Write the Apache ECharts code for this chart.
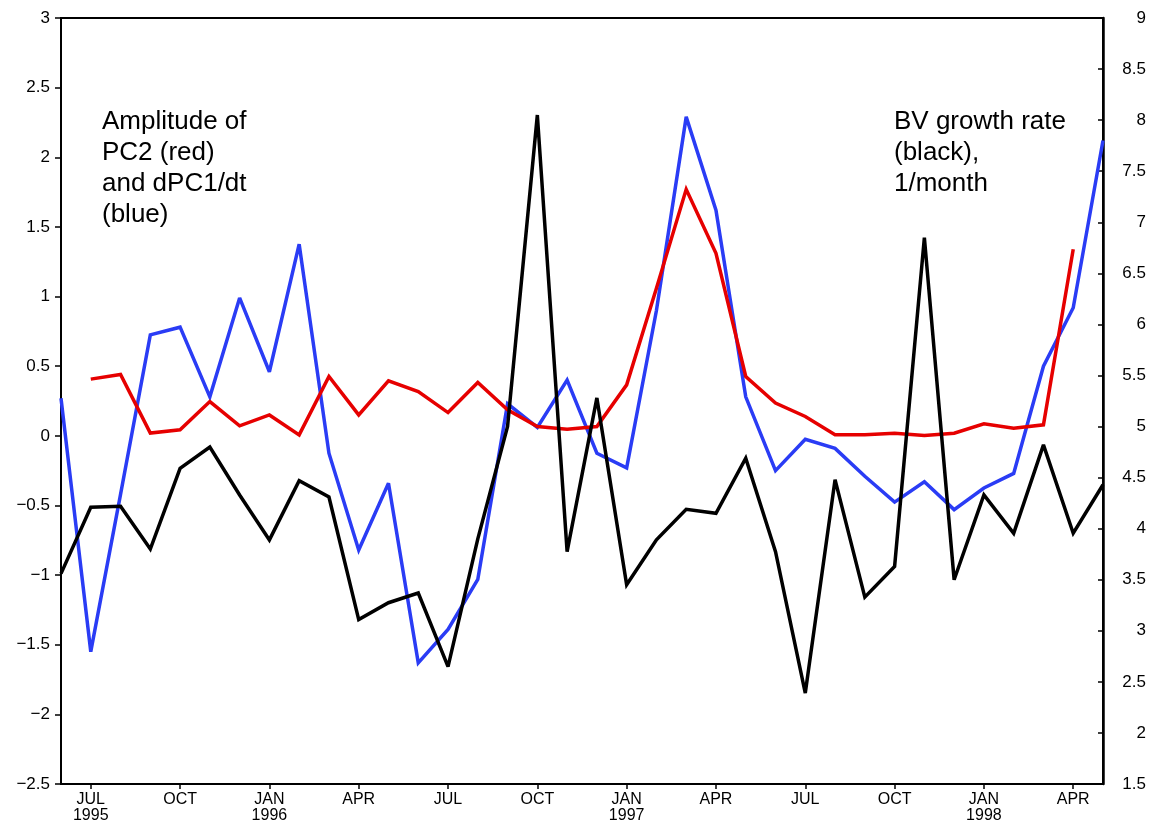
<!DOCTYPE html>
<html>
<head>
<meta charset="utf-8">
<title>PC2, dPC1/dt and BV growth rate</title>
<script src="https://cdn.jsdelivr.net/npm/echarts@6/dist/echarts.min.js"></script>
<style>
  html, body { margin: 0; padding: 0; background: #fff; }
  #chart { width: 1149px; height: 824px; }
</style>
</head>
<body>
<div id="chart"></div>
<script>
// Monthly time axis, June 1995 to May 1998
const months = [
  '1995-06', '1995-07', '1995-08', '1995-09', '1995-10', '1995-11', '1995-12',
  '1996-01', '1996-02', '1996-03', '1996-04', '1996-05', '1996-06', '1996-07',
  '1996-08', '1996-09', '1996-10', '1996-11', '1996-12',
  '1997-01', '1997-02', '1997-03', '1997-04', '1997-05', '1997-06', '1997-07',
  '1997-08', '1997-09', '1997-10', '1997-11', '1997-12',
  '1998-01', '1998-02', '1998-03', '1998-04', '1998-05'
];

// Month abbreviations shown on the time axis (quarterly)
const monthNames = { '01': 'JAN', '04': 'APR', '07': 'JUL', '10': 'OCT' };

// dPC1/dt (blue, left axis)
const dpc1dt = [
  0.27, -1.55, -0.42, 0.725, 0.78, 0.28, 0.99, 0.46, 1.376, -0.125,
  -0.82, -0.34, -1.63, -1.39, -1.03, 0.23, 0.06, 0.40, -0.125, -0.23,
  0.90, 2.29, 1.62, 0.28, -0.25, -0.025, -0.09, -0.29, -0.476, -0.33,
  -0.53, -0.375, -0.27, 0.50, 0.92, 2.12
];

// Amplitude of PC2 (red, left axis); no value for the first and last month
const pc2 = [
  null, 0.407, 0.44, 0.02, 0.043, 0.246, 0.072, 0.15, 0.007, 0.426,
  0.15, 0.395, 0.318, 0.167, 0.383, 0.187, 0.067, 0.048, 0.067, 0.366,
  1.06, 1.77, 1.31, 0.426, 0.235, 0.139, 0.007, 0.007, 0.019, 0.002,
  0.019, 0.086, 0.055, 0.079, 1.34, null
];

// BV growth rate, 1/month (black, right axis)
const bvGrowth = [
  3.56, 4.21, 4.22, 3.80, 4.59, 4.80, 4.33, 3.89, 4.47, 4.31,
  3.11, 3.275, 3.37, 2.65, 3.90, 5.00, 8.05, 3.775, 5.28, 3.45,
  3.89, 4.19, 4.15, 4.69, 3.775, 2.39, 4.48, 3.33, 3.63, 6.85,
  3.50, 4.33, 3.955, 4.82, 3.955, 4.43
];

// Axis ranges
const leftRange = { min: -2.5, max: 3, step: 0.5 };
const rightRange = { min: 1.5, max: 9, step: 0.5 };

const font = 'Liberation Sans, Arial, Helvetica, sans-serif';

function isLabelled(index) {
  const mm = months[index].slice(5);
  return monthNames[mm] !== undefined;
}

function monthLabel(value, index) {
  const mm = value.slice(5);
  const name = monthNames[mm];
  if (!name) return '';
  const firstLabel = months.findIndex((m, i) => isLabelled(i)) === index;
  if (mm === '01' || firstLabel) return name + '\n' + value.slice(0, 4);
  return name;
}

function signed(v) {
  return String(v).replace('-', '\u2212');
}

const lineStyle = (color) => ({ color: color, width: 3.5, join: 'miter', miterLimit: 3 });

const chart = echarts.init(document.getElementById('chart'), null, { renderer: 'canvas' });

chart.setOption({
  animation: false,
  backgroundColor: '#fff',
  grid: {
    left: 61, right: 46, top: 18, bottom: 40,
    show: true, borderColor: '#000', borderWidth: 2
  },
  xAxis: {
    type: 'category',
    data: months,
    boundaryGap: false,
    axisLine: { show: true, onZero: false, lineStyle: { color: '#000', width: 2 } },
    axisTick: {
      show: true, inside: false, length: 5,
      interval: (i) => isLabelled(i),
      lineStyle: { color: '#000', width: 1.5 }
    },
    axisLabel: {
      interval: (i) => isLabelled(i),
      formatter: monthLabel,
      color: '#000', fontFamily: font, fontSize: 16, lineHeight: 16, margin: 8
    },
    splitLine: { show: false }
  },
  yAxis: [
    {
      type: 'value',
      position: 'left',
      min: leftRange.min, max: leftRange.max, interval: leftRange.step,
      axisLine: { show: true, lineStyle: { color: '#000', width: 2 } },
      axisTick: { show: true, inside: false, length: 6, lineStyle: { color: '#000', width: 1.5 } },
      axisLabel: {
        formatter: signed, color: '#000', fontFamily: font, fontSize: 17, margin: 11
      },
      splitLine: { show: false }
    },
    {
      type: 'value',
      position: 'right',
      min: rightRange.min, max: rightRange.max, interval: rightRange.step,
      axisLine: { show: true, lineStyle: { color: '#000', width: 2.5 } },
      axisTick: { show: true, inside: true, length: 5, lineStyle: { color: '#000', width: 1.5 } },
      axisLabel: {
        color: '#000', fontFamily: font, fontSize: 17, margin: 43, align: 'right'
      },
      splitLine: { show: false }
    }
  ],
  series: [
    {
      name: 'dPC1/dt',
      type: 'line',
      yAxisIndex: 0,
      data: dpc1dt,
      showSymbol: false,
      lineStyle: lineStyle('#2a3cf5'),
      z: 2
    },
    {
      name: 'PC2',
      type: 'line',
      yAxisIndex: 0,
      data: pc2,
      showSymbol: false,
      lineStyle: lineStyle('#e60000'),
      z: 3
    },
    {
      name: 'BV growth rate',
      type: 'line',
      yAxisIndex: 1,
      data: bvGrowth,
      showSymbol: false,
      lineStyle: lineStyle('#000'),
      z: 4
    }
  ],
  graphic: [
    {
      type: 'text',
      left: 102, top: 106,
      style: {
        text: 'Amplitude of\nPC2 (red)\nand dPC1/dt\n(blue)',
        fill: '#000', font: '26px ' + font, lineHeight: 31
      }
    },
    {
      type: 'text',
      left: 894, top: 106,
      style: {
        text: 'BV growth rate\n(black),\n1/month',
        fill: '#000', font: '26px ' + font, lineHeight: 31
      }
    }
  ]
});
</script>
</body>
</html>
